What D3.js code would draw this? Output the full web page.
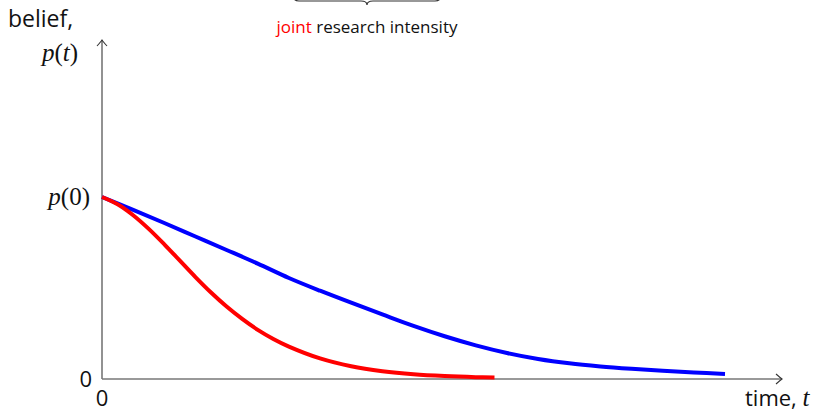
<!DOCTYPE html>
<html>
<head>
<meta charset="utf-8">
<script src="https://cdn.jsdelivr.net/npm/d3@7"></script>
<style>
  html, body { margin: 0; padding: 0; background: #fff; }
  svg { display: block; }
  .lbl { font-family: "Open Sans", "Noto Sans", sans-serif; fill: #111; }
  .math { font-family: "Liberation Serif", "DejaVu Serif", serif; fill: #111; }
</style>
</head>
<body>
<svg id="chart" width="821" height="411"></svg>
<script>
// Belief paths p(t) under two research intensities
const timeBase = [0, 0.5, 1, 1.5, 2, 2.5, 3, 3.5, 4, 4.5, 5, 5.5, 6, 6.5, 7, 7.5, 8, 8.5, 9, 9.5, 10];
const beliefBase = [1.000, 0.929, 0.857, 0.783, 0.709, 0.634, 0.555, 0.485, 0.419, 0.355, 0.292,
                    0.235, 0.185, 0.143, 0.110, 0.086, 0.069, 0.056, 0.045, 0.036, 0.028];
const timeJoint = [0, 0.25, 0.5, 0.75, 1, 1.25, 1.5, 1.75, 2, 2.25, 2.5, 2.75, 3, 3.5, 4, 4.5, 5, 5.5, 6, 6.3];
const beliefJoint = [1.000, 0.960, 0.900, 0.825, 0.740, 0.650, 0.560, 0.475, 0.398, 0.330,
                     0.270, 0.220, 0.178, 0.113, 0.070, 0.043, 0.026, 0.016, 0.010, 0.008];
const xTickLabels = ["0"];
const yTickLabels = ["0"];

const svg = d3.select("#chart");

const x = d3.scaleLinear().domain([0, 10]).range([102, 725]);
const y = d3.scaleLinear().domain([0, 1]).range([379, 197]);
const xEnd = 782, yTop = 40;

// arrow heads in the style of a "->" tip
const defs = svg.append("defs");
defs.append("marker")
  .attr("id", "tip")
  .attr("viewBox", "-8 -6 10 12")
  .attr("refX", 0).attr("refY", 0)
  .attr("markerWidth", 10).attr("markerHeight", 12)
  .attr("markerUnits", "userSpaceOnUse")
  .attr("orient", "auto")
  .append("path")
  .attr("d", "M-6,-5 Q-1.5,-1 0,0 Q-1.5,1 -6,5")
  .attr("fill", "none").attr("stroke", "#333").attr("stroke-width", 1.1);

// axes (no ticks, just the domain lines with arrows)
const xAxisScale = d3.scaleLinear().domain([0, 1]).range([x(0), xEnd]);
const yAxisScale = d3.scaleLinear().domain([0, 1]).range([y(0), yTop]);

const gx = svg.append("g").attr("transform", `translate(0,${y(0)})`)
  .call(d3.axisBottom(xAxisScale).tickValues([]).tickSizeOuter(0));
gx.select(".domain").attr("stroke", "#777").attr("stroke-width", 1.6)
  .attr("d", `M${x(0)},0H${xEnd}`).attr("marker-end", "url(#tip)");

const gy = svg.append("g").attr("transform", `translate(${x(0)},0)`)
  .call(d3.axisLeft(yAxisScale).tickValues([]).tickSizeOuter(0));
gy.select(".domain").attr("stroke", "#777").attr("stroke-width", 1.6)
  .attr("d", `M0,${y(0)}V${yTop}`).attr("marker-end", "url(#tip)");

// curves
const line = d3.line().curve(d3.curveCatmullRom.alpha(0.5));
svg.append("path")
  .attr("d", line(timeBase.map((t, i) => [x(t), y(beliefBase[i])])))
  .attr("fill", "none").attr("stroke", "#0000ff").attr("stroke-width", 4)
  .attr("stroke-linecap", "butt");
svg.append("path")
  .attr("d", line(timeJoint.map((t, i) => [x(t), y(beliefJoint[i])])))
  .attr("fill", "none").attr("stroke", "#ff0000").attr("stroke-width", 4)
  .attr("stroke-linecap", "butt");

// tick labels at the origin
svg.append("text").attr("class", "lbl").attr("font-size", 22)
  .attr("x", x(0)).attr("y", y(0) + 27).attr("text-anchor", "middle")
  .text(xTickLabels[0]);
svg.append("text").attr("class", "lbl").attr("font-size", 22)
  .attr("x", x(0) - 10).attr("y", y(0) + 8).attr("text-anchor", "end")
  .text(yTickLabels[0]);

// p(0) label
const p0 = svg.append("text").attr("class", "math").attr("font-size", 25)
  .attr("x", x(0) - 12).attr("y", y(1) + 8).attr("text-anchor", "end");
p0.append("tspan").attr("font-style", "italic").text("p");
p0.append("tspan").text("(0)");

// y-axis title
svg.append("text").attr("class", "lbl").attr("font-size", 23)
  .attr("x", 8).attr("y", 27).text("belief,");
const pt = svg.append("text").attr("class", "math").attr("font-size", 25)
  .attr("x", 78).attr("y", 61).attr("text-anchor", "end");
pt.append("tspan").attr("font-style", "italic").text("p");
pt.append("tspan").text("(");
pt.append("tspan").attr("font-style", "italic").text("t");
pt.append("tspan").text(")");

// x-axis title
const tt = svg.append("text").attr("class", "lbl").attr("font-size", 22)
  .attr("x", 745).attr("y", 406);
tt.append("tspan").text("time, ");
tt.append("tspan").attr("class", "math").attr("font-size", 25)
  .attr("font-style", "italic").style("font-family", "Liberation Serif, serif").text("t");

// brace and caption at the top
svg.append("path")
  .attr("d", "M293,-5 Q293,1 299,1 L361,1 Q367,1 367,5 Q367,1 373,1 L435,1 Q441,1 441,-5")
  .attr("fill", "none").attr("stroke", "#333").attr("stroke-width", 1.2);
const cap = svg.append("text").attr("class", "lbl").attr("font-size", 17)
  .attr("x", 367).attr("y", 33).attr("text-anchor", "middle");
cap.append("tspan").attr("fill", "#ff0000").text("joint");
cap.append("tspan").text(" research intensity");
</script>
</body>
</html>
